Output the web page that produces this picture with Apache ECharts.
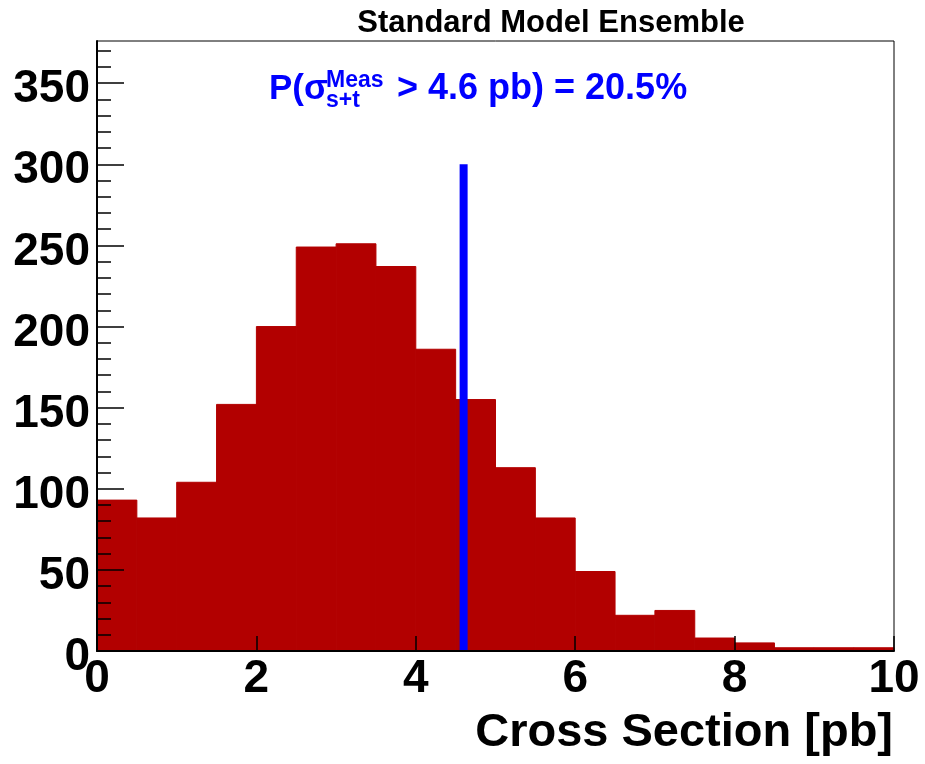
<!DOCTYPE html>
<html>
<head>
<meta charset="utf-8">
<script src="https://cdn.jsdelivr.net/npm/echarts@6/dist/echarts.min.js"></script>
<style>
  html, body { margin: 0; padding: 0; background: #ffffff; }
  #chart { width: 925px; height: 764px; }
</style>
</head>
<body>
<div id="chart"></div>
<script>
// Pseudo-experiment ensemble: measured s+t cross section, 0.5 pb bins
const binLow  = [0, 0.5, 1, 1.5, 2, 2.5, 3, 3.5, 4, 4.5, 5, 5.5, 6, 6.5, 7, 7.5, 8, 8.5, 9, 9.5];
const binHigh = [0.5, 1, 1.5, 2, 2.5, 3, 3.5, 4, 4.5, 5, 5.5, 6, 6.5, 7, 7.5, 8, 8.5, 9, 9.5, 10];
const counts  = [93, 82, 104, 152, 200, 249, 251, 237, 186, 155, 113, 82, 49, 22, 25, 8, 5, 2, 2, 2];

// Observed value marker
const measuredXs = [4.6, 4.6];
const measuredYs = [0, 300];

// Axis ticks
const xTicks = [0, 2, 4, 6, 8, 10];
const yMajorTicks = [0, 50, 100, 150, 200, 250, 300, 350];
const yMinorTicks = [0, 10, 20, 30, 40, 50, 60, 70, 80, 90, 100, 110, 120, 130, 140, 150, 160, 170,
                     180, 190, 200, 210, 220, 230, 240, 250, 260, 270, 280, 290, 300, 310, 320, 330,
                     340, 350, 360, 370];
const yTop = 376;

const FONT = 'Liberation Sans';
const histColor = '#b20000';
const markColor = '#0000ff';

const histData = binLow.map((lo, i) => [lo, binHigh[i], counts[i]]);
const markData = measuredXs.map((x, i) => [x, measuredYs[i]]);

const chart = echarts.init(document.getElementById('chart'), null, { renderer: 'canvas' });

const GRID = { left: 97, top: 41, width: 797, height: 610 };

chart.setOption({
  animation: false,
  backgroundColor: '#ffffff',
  grid: Object.assign({ show: true, borderColor: '#000', borderWidth: 1, backgroundColor: 'transparent' }, GRID),
  xAxis: {
    type: 'value',
    min: 0, max: 10, interval: 2,
    z: 5,
    axisLine: { show: true, onZero: false, lineStyle: { color: '#000', width: 2 } },
    axisTick: { show: true, inside: true, length: 15, customValues: xTicks, lineStyle: { color: '#000', width: 1.5 } },
    axisLabel: {
      customValues: xTicks,
      margin: 5,
      color: '#000', fontFamily: FONT, fontWeight: 'bold', fontSize: 46,
      showMinLabel: true, showMaxLabel: true
    },
    splitLine: { show: false }
  },
  yAxis: [
    {
      type: 'value',
      min: 0, max: yTop,
      position: 'left',
      z: 5,
      axisLine: { show: true, lineStyle: { color: '#000', width: 2 } },
      axisTick: { show: true, inside: true, length: 27, customValues: yMajorTicks, lineStyle: { color: '#000', width: 1.5 } },
      axisLabel: {
        customValues: yMajorTicks,
        margin: 7,
        verticalAlign: 'top',
        lineHeight: 13,
        color: '#000', fontFamily: FONT, fontWeight: 'bold', fontSize: 46
      },
      splitLine: { show: false }
    },
    {
      type: 'value',
      min: 0, max: yTop,
      position: 'left',
      offset: 0,
      z: 5,
      axisLine: { show: false },
      axisTick: { show: true, inside: true, length: 14, customValues: yMinorTicks, lineStyle: { color: '#000', width: 1.5 } },
      axisLabel: { show: false },
      splitLine: { show: false }
    }
  ],
  series: [
    {
      type: 'custom',
      name: 'ensemble',
      z: 2,
      data: histData,
      encode: { x: [0, 1], y: 2 },
      renderItem: function (params, api) {
        const lo = api.value(0), hi = api.value(1), c = api.value(2);
        const p0 = api.coord([lo, 0]);
        const p1 = api.coord([hi, c]);
        return {
          type: 'rect',
          shape: { x: p0[0], y: p1[1], width: p1[0] - p0[0], height: p0[1] - p1[1] },
          style: { fill: histColor, stroke: histColor, lineWidth: 1 }
        };
      }
    },
    {
      type: 'line',
      name: 'measured',
      z: 3,
      data: markData,
      symbol: 'none',
      lineStyle: { color: markColor, width: 8, cap: 'butt' }
    }
  ],
  graphic: [
    {
      type: 'text', x: 551, y: 23, z: 10,
      style: { text: 'Standard Model Ensemble', fill: '#000', font: 'bold 31px "Liberation Sans"', align: 'center', verticalAlign: 'middle' }
    },
    {
      type: 'text', x: 269, y: 89, z: 10,
      style: { text: 'P(σ', fill: markColor, font: 'bold 35px "Liberation Sans"', align: 'left', verticalAlign: 'middle' }
    },
    {
      type: 'text', x: 326, y: 81, z: 10,
      style: { text: 'Meas', fill: markColor, font: 'bold 23px "Liberation Sans"', align: 'left', verticalAlign: 'middle' }
    },
    {
      type: 'text', x: 326, y: 101, z: 10,
      style: { text: 's+t', fill: markColor, font: 'bold 23px "Liberation Sans"', align: 'left', verticalAlign: 'middle' }
    },
    {
      type: 'text', x: 397, y: 89, z: 10,
      style: { text: '> 4.6 pb) = 20.5%', fill: markColor, font: 'bold 36px "Liberation Sans"', align: 'left', verticalAlign: 'middle' }
    },
    {
      type: 'text', x: 893, y: 733, z: 10,
      style: { text: 'Cross Section [pb]', fill: '#000', font: 'bold 47px "Liberation Sans"', align: 'right', verticalAlign: 'middle' }
    }
  ]
});
</script>
</body>
</html>
